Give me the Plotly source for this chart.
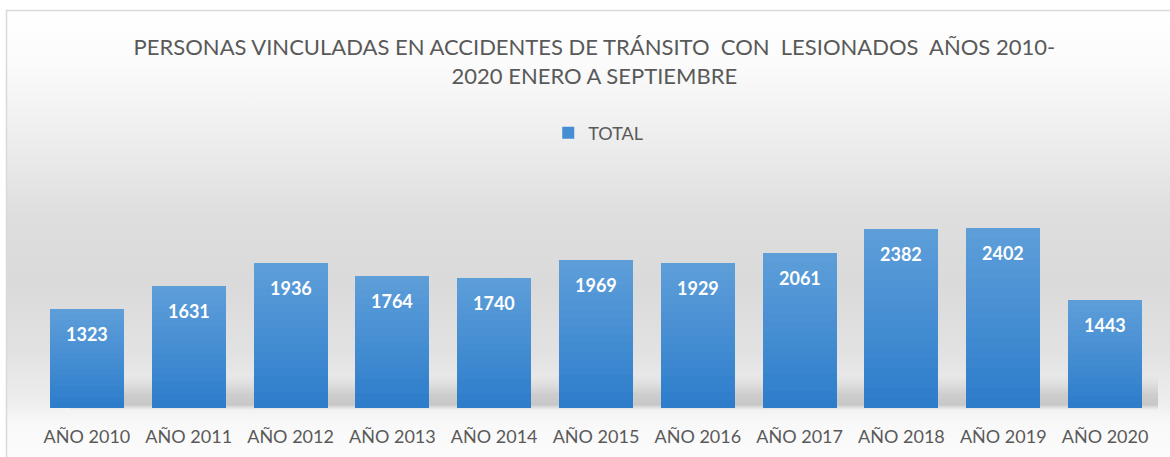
import base64
import plotly.graph_objects as go

# ---- data ----
categories = ["AÑO 2010", "AÑO 2011", "AÑO 2012", "AÑO 2013", "AÑO 2014", "AÑO 2015",
              "AÑO 2016", "AÑO 2017", "AÑO 2018", "AÑO 2019", "AÑO 2020"]
values = [1323, 1631, 1936, 1764, 1740, 1969, 1929, 2061, 2382, 2402, 1443]
series_name = "TOTAL"
title_text = ("PERSONAS VINCULADAS EN ACCIDENTES DE TRÁNSITO  CON  LESIONADOS  AÑOS 2010-"
              "<br>2020 ENERO A SEPTIEMBRE")

# ---- geometry (pixels) ----
W, H = 1170, 457
L, R, T, B = 36, 14, 183, 49
PW, PH = W - L - R, H - T - B

FONT = "Lato"
TXT = "#595959"

# ---- background (decorative gradient + chart frame + soft floor shadow) ----
svg = f'''<svg xmlns="http://www.w3.org/2000/svg" width="{W}" height="{H}" viewBox="0 0 {W} {H}" preserveAspectRatio="none">
<defs>
<linearGradient id="bg" x1="0" y1="0" x2="0" y2="1">
<stop offset="0" stop-color="#ffffff"/>
<stop offset="0.12" stop-color="#fbfbfb"/>
<stop offset="0.30" stop-color="#ececec"/>
<stop offset="0.45" stop-color="#dedede"/>
<stop offset="0.60" stop-color="#dadada"/>
<stop offset="0.75" stop-color="#e2e2e2"/>
<stop offset="0.86" stop-color="#eeeeee"/>
<stop offset="0.90" stop-color="#f8f8f8"/>
<stop offset="1" stop-color="#fdfdfd"/>
</linearGradient>
<linearGradient id="sh" x1="0" y1="0" x2="0" y2="1">
<stop offset="0" stop-color="#c8c8c8" stop-opacity="0"/>
<stop offset="0.55" stop-color="#c0c0c0" stop-opacity="0.7"/>
<stop offset="0.85" stop-color="#bdbdbd" stop-opacity="0.8"/>
<stop offset="1" stop-color="#cfcfcf" stop-opacity="0"/>
</linearGradient>
</defs>
<rect x="0" y="0" width="{W}" height="{H}" fill="#ffffff"/>
<rect x="6" y="10" width="{W}" height="{H}" fill="url(#bg)"/>
<rect x="70" y="376" width="1088" height="34" fill="url(#sh)"/>
<rect x="6.5" y="10.5" width="{W+20}" height="{H+20}" fill="none" stroke="#d9d9d9" stroke-width="1.5"/>
</svg>'''
src = "data:image/svg+xml;base64," + base64.b64encode(svg.encode("utf-8")).decode("ascii")

# ---- bars: vertical gradient built from stacked slices of each value ----
N = 18
top_rgb = (93, 158, 217)
bot_rgb = (46, 125, 203)

fig = go.Figure()
for k in range(N):
    t = k / (N - 1)
    c = tuple(round(bot_rgb[i] + (top_rgb[i] - bot_rgb[i]) * t) for i in range(3))
    fig.add_trace(go.Bar(
        x=categories,
        y=[v / N for v in values],
        marker=dict(color=f"rgb{c}", line=dict(width=0)),
        name=series_name,
        showlegend=False,
        hoverinfo="skip",
    ))

# legend entry
fig.add_trace(go.Bar(
    x=[categories[0]], y=[0], name=series_name,
    marker=dict(color="rgb(70,142,211)", line=dict(width=0)),
    showlegend=True, hoverinfo="skip",
))

# value labels inside bars
for cat, v in zip(categories, values):
    fig.add_annotation(x=cat, y=v, yshift=-25, text=f"<b>{v}</b>", showarrow=False,
                       font=dict(family=FONT, size=18, color="white"),
                       xanchor="center", yanchor="middle")

fig.update_layout(
    width=W, height=H,
    margin=dict(l=L, r=R, t=T, b=B, pad=0, autoexpand=False),
    barmode="stack",
    bargap=0.273,
    paper_bgcolor="rgba(0,0,0,0)",
    plot_bgcolor="rgba(0,0,0,0)",
    title=dict(text=title_text, x=0.508, xanchor="center", xref="container",
               y=1 - 55 / H, yanchor="middle", yref="container",
               font=dict(family=FONT, size=22, color=TXT)),
    legend=dict(orientation="h", x=0.502, xanchor="center", y=(H - B - 133) / PH,
                yanchor="middle", font=dict(family=FONT, size=18, color=TXT),
                bgcolor="rgba(0,0,0,0)", traceorder="normal", itemwidth=30),
    xaxis=dict(showgrid=False, showline=False, zeroline=False, automargin=False,
               ticks="outside", ticklen=12, tickcolor="rgba(0,0,0,0)",
               tickfont=dict(family=FONT, size=18, color=TXT)),
    yaxis=dict(range=[0, 3000], showgrid=False, zeroline=False, showline=False,
               showticklabels=False, ticks="", automargin=False),
    images=[dict(source=src, xref="paper", yref="paper",
                 x=-L / PW, y=(PH + T) / PH, sizex=W / PW, sizey=H / PH,
                 xanchor="left", yanchor="top", sizing="stretch", layer="below")],
    showlegend=True,
)

fig.write_html("out.html", config={"displayModeBar": False},
               post_script="document.body.style.margin='0';document.body.style.overflow='hidden';")
